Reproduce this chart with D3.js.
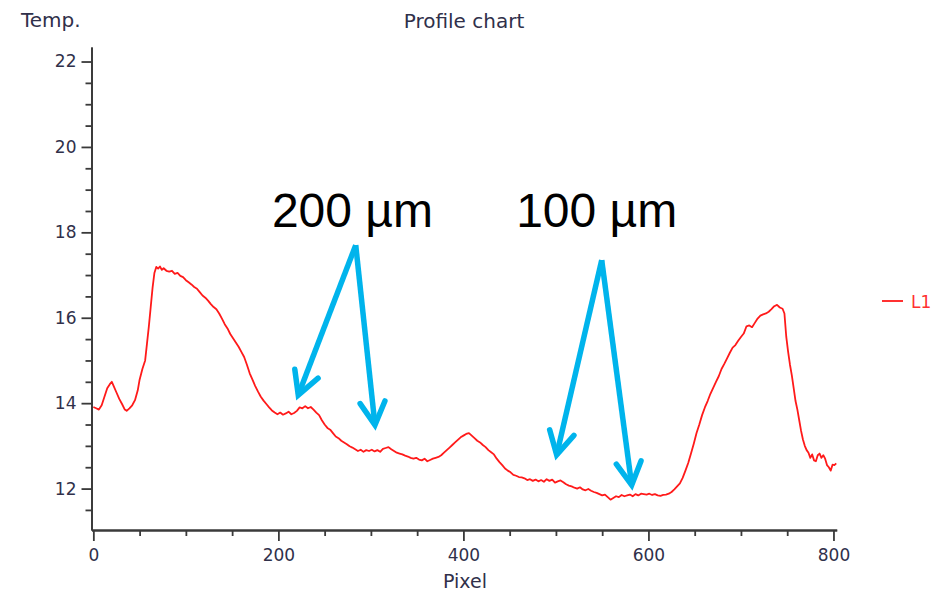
<!DOCTYPE html>
<html>
<head>
<meta charset="utf-8">
<script src="https://cdn.jsdelivr.net/npm/d3@7"></script>
<style>
  html, body { margin: 0; padding: 0; background: #fff; }
  svg { display: block; }
  .tick text, .lbl { font-family: "DejaVu Sans", sans-serif; fill: #30304a; }
</style>
</head>
<body>
<svg id="chart" width="948" height="593"></svg>
<script>
// ---- data ----
const pixels = [0,3,6,9,12,15,18,20,22,25,28,31,34,36,39,42,45,48,50,53,56,58,60,62,64,66,68,70,72,74,76,79,82,85,88,91,94,97,100,103,106,109,112,115,118,121,124,127,130,133,136,139,142,145,148,151,154,157,160,163,166,169,172,175,178,181,184,187,190,193,196,199,202,205,208,211,214,217,220,223,226,229,232,235,238,241,244,247,250,253,256,259,262,265,268,271,274,277,280,283,286,289,292,295,298,301,304,307,310,313,316,319,322,325,328,331,334,337,340,343,346,349,352,355,358,361,364,367,370,373,376,379,382,385,388,391,394,397,400,403,406,409,412,415,418,421,424,427,430,433,436,439,442,445,448,451,454,457,460,463,466,469,472,475,478,481,484,487,490,493,496,499,502,505,508,511,514,517,520,523,526,529,532,535,538,541,544,547,550,553,556,559,562,565,568,571,574,577,580,583,586,589,592,595,598,601,604,607,610,613,616,619,622,625,628,631,634,637,640,643,646,649,652,655,658,661,664,667,670,673,676,679,682,685,688,691,694,697,700,703,706,709,712,715,718,721,724,727,730,733,736,739,742,745,747,749,751,753,755,757,759,761,763,765,767,769,771,773,775,777,779,781,783,785,787,789,791,793,795,797,799,801,803];
const temps = [13.91,13.88,13.85,13.95,14.15,14.35,14.45,14.50,14.40,14.25,14.10,13.98,13.85,13.82,13.88,13.95,14.07,14.30,14.55,14.80,15.00,15.40,15.80,16.25,16.70,17.05,17.19,17.15,17.20,17.12,17.16,17.10,17.08,17.10,17.03,17.05,16.98,16.95,16.88,16.83,16.78,16.72,16.68,16.60,16.52,16.47,16.40,16.32,16.25,16.20,16.10,15.98,15.85,15.75,15.62,15.52,15.42,15.32,15.20,15.08,14.90,14.70,14.55,14.40,14.27,14.15,14.06,13.98,13.90,13.83,13.78,13.74,13.78,13.73,13.76,13.80,13.74,13.77,13.82,13.90,13.88,13.93,13.88,13.91,13.85,13.78,13.72,13.60,13.50,13.42,13.38,13.30,13.22,13.18,13.12,13.08,13.04,12.99,12.96,12.92,12.88,12.91,12.86,12.90,12.88,12.91,12.87,12.90,12.86,12.93,12.95,12.97,12.92,12.88,12.84,12.82,12.80,12.77,12.75,12.72,12.70,12.72,12.68,12.66,12.70,12.64,12.67,12.70,12.72,12.74,12.78,12.84,12.90,12.96,13.02,13.08,13.14,13.20,13.24,13.28,13.30,13.24,13.18,13.12,13.08,13.02,12.97,12.90,12.85,12.80,12.70,12.62,12.55,12.47,12.42,12.38,12.32,12.30,12.27,12.26,12.24,12.20,12.22,12.18,12.21,12.17,12.20,12.16,12.22,12.18,12.21,12.14,12.17,12.19,12.15,12.10,12.07,12.05,12.02,12.00,12.03,11.98,11.96,11.99,11.95,11.92,11.90,11.87,11.84,11.86,11.80,11.74,11.78,11.82,11.80,11.85,11.82,11.84,11.86,11.82,11.87,11.84,11.88,11.87,11.86,11.88,11.85,11.87,11.84,11.83,11.85,11.86,11.88,11.92,11.98,12.05,12.12,12.25,12.42,12.60,12.82,13.05,13.30,13.50,13.72,13.90,14.05,14.22,14.36,14.50,14.63,14.80,14.92,15.05,15.18,15.30,15.36,15.46,15.55,15.63,15.80,15.82,15.78,15.88,15.98,16.05,16.08,16.10,16.14,16.20,16.27,16.30,16.24,16.21,16.10,15.55,15.20,14.90,14.65,14.35,14.05,13.85,13.60,13.35,13.15,13.00,12.90,12.84,12.72,12.80,12.66,12.64,12.78,12.82,12.72,12.78,12.70,12.55,12.50,12.42,12.56,12.55,12.59];
const xMajorTicks = [0, 200, 400, 600, 800];
const xMinorTicks = [50, 100, 150, 250, 300, 350, 450, 500, 550, 650, 700, 750];
const yMajorTicks = [12, 14, 16, 18, 20, 22];
const yMinorTicks = [11.5, 12.5, 13, 13.5, 14.5, 15, 15.5, 16.5, 17, 17.5, 18.5, 19, 19.5, 20.5, 21, 21.5];
const chartTitle = "Profile chart";
const xTitle = "Pixel";
const yTitle = "Temp.";
const seriesName = "L1";
// annotations (data units)
const annoLabels = ["200 µm", "100 µm"];
const annoLabelPos = [[193, 18.13], [457, 18.13]];
const annoApex = [[283.6, 17.70], [549.5, 17.35]];
const annoTips = [[[221.5, 14.19], [304.4, 13.49]], [[500.8, 12.79], [581.9, 12.08]]];

// ---- chart ----
const svg = d3.select("#chart");
const x = d3.scaleLinear().domain([-2, 803.5]).range([91.5, 836.7]);
const y = d3.scaleLinear().domain([11.03, 22.34]).range([530, 47]);
const axisColor = "#3a3a3a";

function styleAxis(g) {
  g.select(".domain").attr("stroke", axisColor).attr("stroke-width", 1.8);
  g.selectAll(".tick line").attr("stroke", axisColor).attr("stroke-width", 1.8);
  g.selectAll(".tick text").style("font-size", "17px");
}

// x axis
svg.append("g").attr("transform", "translate(0,530)")
  .call(d3.axisBottom(x).tickValues(xMinorTicks).tickSize(6).tickSizeOuter(0).tickFormat(""))
  .call(styleAxis);
svg.append("g").attr("transform", "translate(0,530)")
  .call(d3.axisBottom(x).tickValues(xMajorTicks).tickSize(11).tickSizeOuter(0).tickPadding(8).tickFormat(d3.format("d")))
  .call(styleAxis);
// y axis
svg.append("g").attr("transform", "translate(91.5,0)")
  .call(d3.axisLeft(y).tickValues(yMinorTicks).tickSize(6).tickSizeOuter(0).tickFormat(""))
  .call(styleAxis);
svg.append("g").attr("transform", "translate(91.5,0)")
  .call(d3.axisLeft(y).tickValues(yMajorTicks).tickSize(10).tickSizeOuter(0).tickPadding(5).tickFormat(d3.format("d")))
  .call(styleAxis);

// titles
svg.append("text").attr("class", "lbl").attr("x", 464).attr("y", 28)
  .attr("text-anchor", "middle").style("font-size", "20px").text(chartTitle);
svg.append("text").attr("class", "lbl").attr("x", 21).attr("y", 27)
  .style("font-size", "20px").text(yTitle);
svg.append("text").attr("class", "lbl").attr("x", 465).attr("y", 588)
  .attr("text-anchor", "middle").style("font-size", "19px").text(xTitle);

// line
const data = pixels.map((p, i) => [p, temps[i]]);
svg.append("path").datum(data)
  .attr("fill", "none").attr("stroke", "#ff1a1a").attr("stroke-width", 1.8)
  .attr("stroke-linejoin", "round")
  .attr("d", d3.line().x(d => x(d[0])).y(d => y(d[1])));

// legend
svg.append("line").attr("x1", 882).attr("x2", 903).attr("y1", 301).attr("y2", 301)
  .attr("stroke", "#ff1a1a").attr("stroke-width", 1.8);
svg.append("text").attr("x", 911).attr("y", 308)
  .style("font-family", "DejaVu Sans, sans-serif").style("font-size", "17px")
  .attr("fill", "#ff3030").text(seriesName);

// annotations
const cyan = "#00b4ec";
annoLabels.forEach((lab, i) => {
  svg.append("text").attr("x", x(annoLabelPos[i][0])).attr("y", y(annoLabelPos[i][1]))
    .style("font-family", "Liberation Sans, Arial, sans-serif").style("font-size", "48px")
    .attr("fill", "#000").text(lab);
  const ax = x(annoApex[i][0]), ay = y(annoApex[i][1]);
  annoTips[i].forEach(t => {
    const tx = x(t[0]), ty = y(t[1]);
    svg.append("line").attr("x1", ax).attr("y1", ay).attr("x2", tx).attr("y2", ty)
      .attr("stroke", cyan).attr("stroke-width", 5.5).attr("stroke-linecap", "butt");
    const ang = Math.atan2(ty - ay, tx - ax);
    const L = 26, spread = 0.5;
    const p1 = [tx - L * Math.cos(ang - spread), ty - L * Math.sin(ang - spread)];
    const p2 = [tx - L * Math.cos(ang + spread), ty - L * Math.sin(ang + spread)];
    svg.append("path")
      .attr("d", `M${p1[0]},${p1[1]}L${tx},${ty}L${p2[0]},${p2[1]}`)
      .attr("fill", "none").attr("stroke", cyan).attr("stroke-width", 5.5)
      .attr("stroke-linejoin", "miter").attr("stroke-linecap", "round");
  });
});
</script>
</body>
</html>
